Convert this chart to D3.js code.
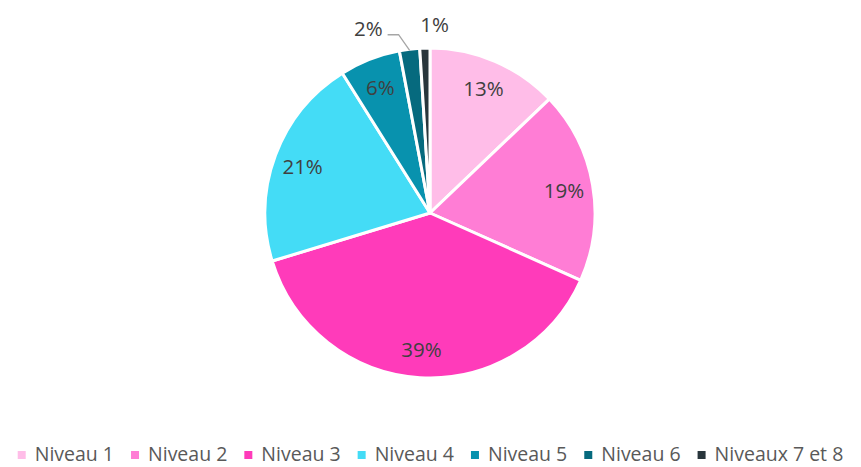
<!DOCTYPE html>
<html>
<head>
<meta charset="utf-8">
<script src="https://cdn.jsdelivr.net/npm/d3@7"></script>
<style>
  body { margin: 0; background: #fff; }
  text { font-family: "Open Sans", sans-serif; }
</style>
</head>
<body>
<svg width="861" height="467"></svg>
<script>
var categories = ["Niveau 1", "Niveau 2", "Niveau 3", "Niveau 4", "Niveau 5", "Niveau 6", "Niveaux 7 et 8"];
var values = [13, 19, 39, 21, 6, 2, 1];
var colors = ["#ffbde8", "#ff7dd5", "#ff3bba", "#44dcf6", "#0892ae", "#066a7e", "#29363c"];

var data = categories.map(function (c, i) {
    return { name: c, value: values[i], color: colors[i] };
});

var svg = d3.select("svg");
var cx = 430, cy = 213, R = 165;

var g = svg.append("g").attr("transform", "translate(" + cx + "," + cy + ")");

var pie = d3.pie().sort(null).value(d => d.value);
var arcs = pie(data);

var arcMaker = d3.arc().innerRadius(0).outerRadius(R);
var labelArc = d3.arc().innerRadius(136).outerRadius(136);

g.selectAll("path.slice")
    .data(arcs)
    .enter()
    .append("path")
    .attr("class", "slice")
    .attr("fill", d => d.data.color)
    .attr("stroke", "#fff")
    .attr("stroke-width", 3)
    .attr("stroke-linejoin", "round")
    .attr("d", arcMaker);

// labels inside for big slices
var inside = arcs.filter(d => d.data.value >= 5);
g.selectAll("text.lab")
    .data(inside)
    .enter()
    .append("text")
    .attr("class", "lab")
    .attr("text-anchor", "middle")
    .attr("dy", "0.4em")
    .attr("font-size", 20.5)
    .attr("fill", "#404040")
    .attr("transform", d => "translate(" + labelArc.centroid(d) + ")")
    .text(d => d.data.value + "%");

function pt(a, r) {
    return [Math.sin(a) * r, -Math.cos(a) * r];
}

// Niveau 6: leader line
var a6 = arcs[5];
var m6 = (a6.startAngle + a6.endAngle) / 2;
var p0 = pt(m6, R - 1), p1 = pt(m6 - 0.05, R + 16);
var p2 = [p1[0] - 11, p1[1]];
g.append("polyline")
    .attr("points", [p0, p1, p2].map(p => p.join(",")).join(" "))
    .attr("fill", "none")
    .attr("stroke", "#a6a6a6")
    .attr("stroke-width", 1.3);
g.append("text")
    .attr("x", p2[0] - 5)
    .attr("y", p2[1] - 6)
    .attr("dy", "0.35em")
    .attr("text-anchor", "end")
    .attr("font-size", 20.5)
    .attr("fill", "#404040")
    .text(a6.data.value + "%");

// Niveaux 7 et 8: plain label above
var a7 = arcs[6];
var m7 = (a7.startAngle + a7.endAngle) / 2;
var q = pt(m7, 188);
g.append("text")
    .attr("x", q[0] - 4)
    .attr("y", q[1])
    .attr("dy", "0.35em")
    .attr("text-anchor", "start")
    .attr("font-size", 20.5)
    .attr("fill", "#404040")
    .text(a7.data.value + "%");

// legend
var leg = svg.append("g");
var items = leg.selectAll("g.item")
    .data(data)
    .enter()
    .append("g")
    .attr("class", "item");
items.append("rect")
    .attr("width", 8).attr("height", 8)
    .attr("y", -3)
    .attr("fill", d => d.color);
items.append("text")
    .attr("x", 17)
    .attr("dy", "0.35em")
    .attr("font-size", 19.5)
    .attr("fill", "#595959")
    .text(d => d.name);

var x = 0, pos = [];
items.each(function () {
    var w = d3.select(this).select("text").node().getComputedTextLength();
    pos.push(x);
    x += 17 + w + 17;
});
var total = x - 17;
var x0 = (861 - total) / 2;
items.attr("transform", (d, i) => "translate(" + (x0 + pos[i]) + ",454)");
</script>
</body>
</html>
